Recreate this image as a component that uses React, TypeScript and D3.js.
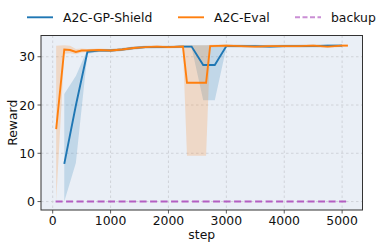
import React from "react";
import * as d3 from "d3";

const blueSteps = [200, 400, 600, 800, 1000, 1200, 1400, 1600, 1800, 2000, 2200, 2400, 2600, 2800, 3000, 3250, 3500, 3750, 4000, 4250, 4500, 4750, 5000];
const blueMean = [7.8, 19.9, 31.0, 31.3, 31.3, 31.5, 31.8, 32.0, 32.0, 32.0, 32.1, 32.1, 28.3, 28.3, 32.2, 32.2, 32.2, 32.1, 32.2, 32.2, 32.2, 32.3, 32.3];
const blueLo = [0, 8, 30.6, 31.0, 31.0, 31.2, 31.5, 31.7, 31.7, 31.8, 31.9, 31.9, 21, 21, 31.9, 31.9, 31.9, 31.8, 31.9, 31.9, 31.9, 32.0, 32.0];
const blueHi = [22.3, 26, 31.5, 31.6, 31.6, 31.8, 32.1, 32.3, 32.3, 32.3, 32.4, 32.4, 32.4, 32.4, 32.5, 32.5, 32.5, 32.4, 32.5, 32.5, 32.5, 32.6, 32.6];

const orangeSteps = [60, 200, 300, 400, 500, 600, 800, 1000, 1200, 1400, 1600, 1800, 2000, 2250, 2320, 2650, 2720, 3000, 3250, 3500, 3750, 4000, 4250, 4500, 4750, 5000, 5100];
const orangeMean = [15, 31.5, 31.4, 31.0, 31.3, 31.3, 31.4, 31.3, 31.5, 31.8, 32.0, 32.1, 32.0, 32.1, 24.6, 24.6, 32.2, 32.3, 32.2, 32.1, 32.2, 32.2, 32.2, 32.3, 32.1, 32.3, 32.3];
const orangeLo = [0, 30.6, 30.7, 30.5, 30.9, 31.0, 31.1, 31.0, 31.2, 31.5, 31.7, 31.8, 31.7, 31.8, 9.5, 9.5, 31.9, 32.0, 31.9, 31.8, 31.9, 31.9, 31.9, 32.0, 31.8, 32.0, 32.0];
const orangeHi = [32.3, 32.4, 32.3, 31.6, 31.7, 31.6, 31.7, 31.6, 31.8, 32.1, 32.3, 32.4, 32.3, 32.4, 32.4, 32.4, 32.5, 32.6, 32.5, 32.4, 32.5, 32.5, 32.5, 32.6, 32.4, 32.6, 32.6];

const backupSteps = [50, 5100];
const backupValues = [0, 0];

const xTicks = [0, 1000, 2000, 3000, 4000, 5000];
const yTicks = [0, 10, 20, 30];

const W = 389, H = 248;
const L = 41, R = 362.5, T = 35.5, B = 210;
const FONT = "DejaVu Sans, sans-serif";
const FS = 12.4;

export default function App() {
  const x = d3.scaleLinear().domain([-202, 5352]).range([L, R]);
  const y = d3.scaleLinear().domain([-1.75, 34.4]).range([B, T]);

  const mk = (steps: number[], mean: number[], lo: number[], hi: number[]) => {
    const pts = steps.map((s, i) => ({ s, m: mean[i], lo: lo[i], hi: hi[i] }));
    const line = d3.line<any>().x(d => x(d.s)).y(d => y(d.m))(pts) as string;
    const area = d3.area<any>().x(d => x(d.s)).y0(d => y(d.lo)).y1(d => y(d.hi))(pts) as string;
    return { line, area };
  };
  const blue = mk(blueSteps, blueMean, blueLo, blueHi);
  const orange = mk(orangeSteps, orangeMean, orangeLo, orangeHi);
  const backupLine = d3.line<number>().x((d, i) => x(backupSteps[i])).y(d => y(d))(backupValues) as string;

  const blueC = "#1f77b4", orangeC = "#ff7f0e", purpleC = "#b35ec2";

  return (
    <svg width={W} height={H} style={{ position: "absolute", left: 0, top: 0 }} fontFamily={FONT}>
      <rect x={0} y={0} width={W} height={H} fill="#fff" />
      <defs>
        <clipPath id="clip"><rect x={L} y={T} width={R - L} height={B - T} /></clipPath>
      </defs>
      <rect x={L} y={T} width={R - L} height={B - T} fill="#eaeff6" />
      {xTicks.map(t => (
        <line key={"gx" + t} x1={x(t)} x2={x(t)} y1={T} y2={B} stroke="#c9ccd2" strokeWidth={0.8} strokeDasharray="2.5,2.5" />
      ))}
      {yTicks.map(t => (
        <line key={"gy" + t} x1={L} x2={R} y1={y(t)} y2={y(t)} stroke="#c9ccd2" strokeWidth={0.8} strokeDasharray="2.5,2.5" />
      ))}
      <g clipPath="url(#clip)">
        <path d={blue.area} fill={blueC} fillOpacity={0.2} />
        <path d={orange.area} fill={orangeC} fillOpacity={0.2} />
        <path d={blue.line} fill="none" stroke={blueC} strokeWidth={1.9} />
        <path d={orange.line} fill="none" stroke={orangeC} strokeWidth={1.9} />
        <path d={backupLine} fill="none" stroke={purpleC} strokeWidth={1.9} strokeDasharray="7,3.5" />
      </g>
      <rect x={L} y={T} width={R - L} height={B - T} fill="none" stroke="#333" strokeWidth={1} />
      {xTicks.map(t => (
        <g key={"tx" + t}>
          <line x1={x(t)} x2={x(t)} y1={B} y2={B + 3.5} stroke="#333" strokeWidth={0.8} />
          <text x={x(t)} y={224.5} textAnchor="middle" fontSize={FS} fill="#111">{t}</text>
        </g>
      ))}
      {yTicks.map(t => (
        <g key={"ty" + t}>
          <line x1={L - 3.5} x2={L} y1={y(t)} y2={y(t)} stroke="#333" strokeWidth={0.8} />
          <text x={L - 6} y={y(t) + 4.5} textAnchor="end" fontSize={FS} fill="#111">{t}</text>
        </g>
      ))}
      <text x={(L + R) / 2} y={238.5} textAnchor="middle" fontSize={FS} fill="#111">step</text>
      <text transform={`translate(17,${(T + B) / 2}) rotate(-90)`} textAnchor="middle" fontSize={FS} fill="#111">Reward</text>
      {[
        { lx: 27, label: "A2C-GP-Shield", c: blueC, dash: undefined },
        { lx: 178, label: "A2C-Eval", c: orangeC, dash: undefined },
        { lx: 295, label: "backup", c: purpleC, dash: "5,2.5" },
      ].map(it => (
        <g key={it.label}>
          <line x1={it.lx} x2={it.lx + 26} y1={17.3} y2={17.3} stroke={it.c} strokeWidth={1.9} strokeDasharray={it.dash} strokeOpacity={it.dash ? 0.7 : 1} />
          <text x={it.lx + 36} y={22.3} fontSize={FS} fill="#111">{it.label}</text>
        </g>
      ))}
    </svg>
  );
}
